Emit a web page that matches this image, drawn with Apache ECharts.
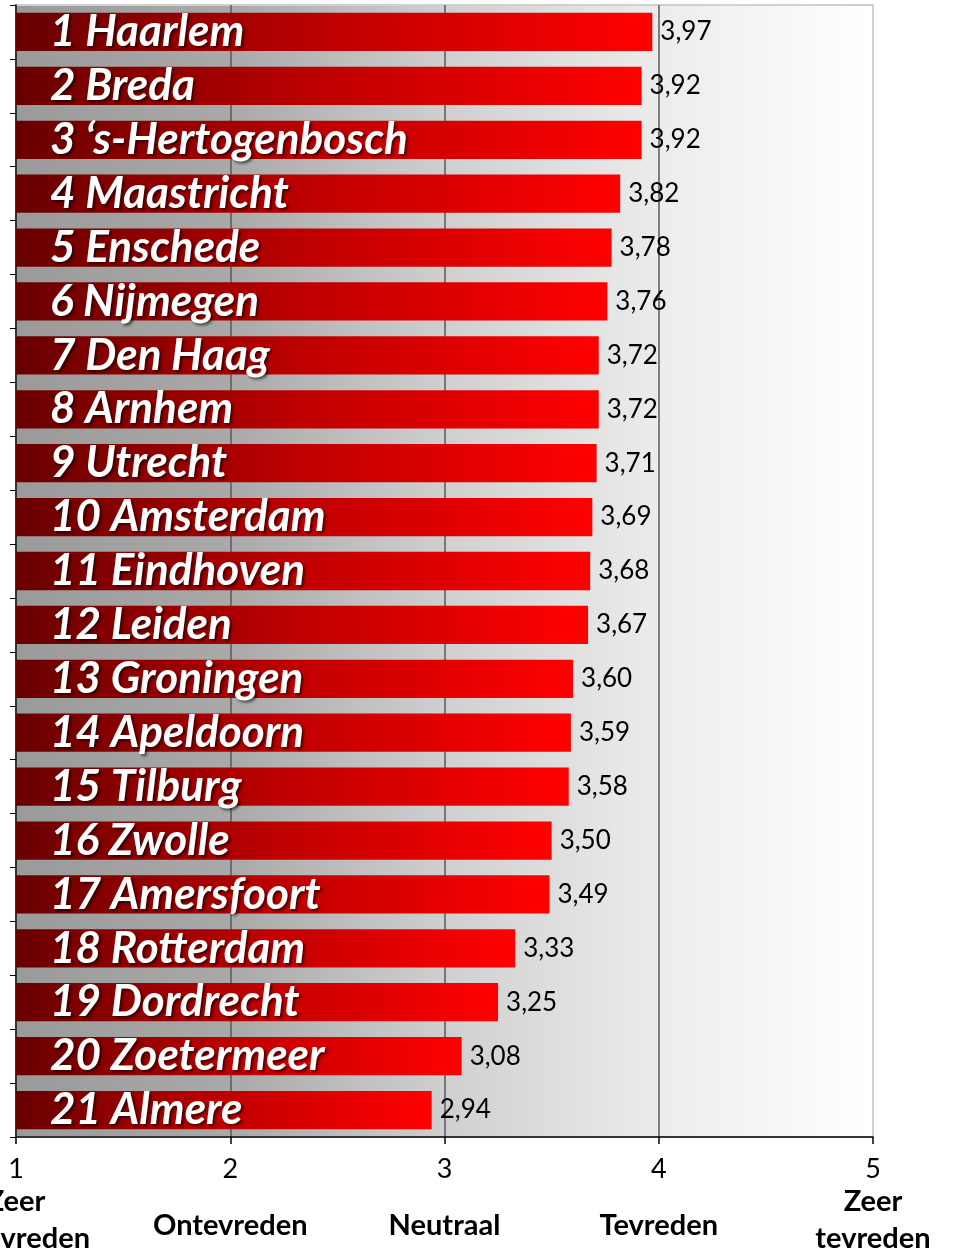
<!DOCTYPE html>
<html lang="nl">
<head>
    <meta charset="UTF-8">
    <title>Tevredenheid</title>
    <script src="https://cdn.jsdelivr.net/npm/echarts@6/dist/echarts.min.js"></script>
</head>
<style>
html,body{margin: 0;padding: 0;background: #fff}
#chartBox{width: 958px;height: 1251px}
</style>
<body>
    <div id="chartBox"></div>
</body>
<script>
// steden en scores
let cities = ['1 Haarlem', '2 Breda', '3 \u2018s-Hertogenbosch', '4 Maastricht', '5 Enschede', '6 Nijmegen',
    '7 Den Haag', '8 Arnhem', '9 Utrecht', '10 Amsterdam', '11 Eindhoven', '12 Leiden', '13 Groningen',
    '14 Apeldoorn', '15 Tilburg', '16 Zwolle', '17 Amersfoort', '18 Rotterdam', '19 Dordrecht',
    '20 Zoetermeer', '21 Almere'];
let scores = [3.97, 3.92, 3.92, 3.82, 3.78, 3.76, 3.72, 3.72, 3.71, 3.69, 3.68, 3.67, 3.60,
    3.59, 3.58, 3.50, 3.49, 3.33, 3.25, 3.08, 2.94];
let scaleLabels = {1: 'Zeer\nontevreden', 2: 'Ontevreden', 3: 'Neutraal', 4: 'Tevreden', 5: 'Zeer\ntevreden'};

let font = 'Lato, "Open Sans", sans-serif';

let chartObj = echarts.init(document.getElementById('chartBox'));
let option = {
    animation: false,
    grid: {
        left: 16,
        right: 85,
        top: 5,
        bottom: 114,
        outerBoundsMode: 'none',
        containLabel: false,
        show: true,
        borderColor: '#d0d0d0',
        borderWidth: 2,
        backgroundColor: new echarts.graphic.LinearGradient(0, 0, 1, 0, [
            {offset: 0, color: '#9a9a9a'},
            {offset: 0.25, color: '#a9a9a9'},
            {offset: 0.5, color: '#cfcfcf'},
            {offset: 0.75, color: '#ececec'},
            {offset: 1, color: '#ffffff'}
        ])
    },
    xAxis: {
        type: 'value',
        min: 1,
        max: 5,
        interval: 1,
        axisLine: {show: true, lineStyle: {color: '#000', width: 1.5}},
        axisTick: {show: true, length: 7, lineStyle: {color: '#000', width: 1.5}},
        splitLine: {show: true, showMinLine: false, showMaxLine: false, lineStyle: {color: '#5a5a5a', width: 1.5}},
        axisLabel: {
            margin: 18,
            fontFamily: font,
            color: '#000',
            hideOverlap: false,
            formatter: function (v) {
                let t = scaleLabels[v];
                if (t.indexOf('\n') >= 0) {
                    let parts = t.split('\n');
                    return '{n|' + v + '}\n{t|' + parts[0] + '}\n{t|' + parts[1] + '}';
                }
                return '{n|' + v + '}\n{m|' + t + '}';
            },
            rich: {
                n: {fontSize: 27, fontFamily: font, lineHeight: 28, color: '#000'},
                t: {fontSize: 29, fontFamily: font, fontWeight: 'bold', lineHeight: 37, color: '#000'},
                m: {fontSize: 29, fontFamily: font, fontWeight: 'bold', lineHeight: 86, color: '#000'}
            }
        }
    },
    yAxis: {
        type: 'category',
        inverse: true,
        data: cities,
        axisLine: {show: true, lineStyle: {color: '#000', width: 1.5}},
        axisTick: {show: true, length: 6, lineStyle: {color: '#000'}},
        axisLabel: {show: false}
    },
    series: [{
        type: 'bar',
        data: scores,
        barCategoryGap: '29%',
        itemStyle: {
            color: new echarts.graphic.LinearGradient(0, 0, 1, 0, [
                {offset: 0, color: '#680000'},
                {offset: 0.5, color: '#c00000'},
                {offset: 1, color: '#ff0000'}
            ])
        }
    }, {
        // naam van de stad in de balk
        type: 'bar',
        data: scores,
        barGap: '-100%',
        barCategoryGap: '29%',
        itemStyle: {color: 'transparent'},
        label: {
            show: true,
            position: 'insideLeft',
            distance: 34,
            formatter: function (p) { return cities[p.dataIndex]; },
            fontFamily: font,
            fontSize: 44,
            fontWeight: 'bold',
            fontStyle: 'italic',
            color: '#fff',
            textShadowColor: 'rgba(0,0,0,0.6)',
            textShadowBlur: 3,
            textShadowOffsetX: 2,
            textShadowOffsetY: 2
        }
    }, {
        // score rechts van de balk
        type: 'bar',
        data: scores,
        barGap: '-100%',
        barCategoryGap: '29%',
        itemStyle: {color: 'transparent'},
        label: {
            show: true,
            position: 'right',
            distance: 8,
            formatter: function (p) { return p.value.toFixed(2).replace('.', ','); },
            fontFamily: font,
            fontSize: 26,
            color: '#000'
        }
    }]
};
chartObj.setOption(option);
</script>
</html>
